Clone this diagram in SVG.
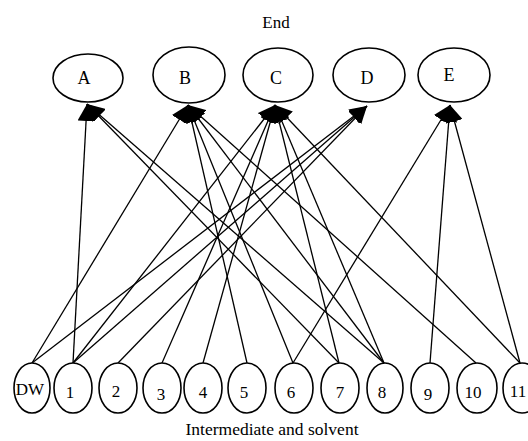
<svg xmlns="http://www.w3.org/2000/svg" width="528" height="441" viewBox="0 0 528 441">
<defs>
<marker id="ah" markerUnits="userSpaceOnUse" markerWidth="18" markerHeight="17" refX="17" refY="8.5" orient="auto" viewBox="0 0 18 17"><path d="M0,0 L17,8.5 L0,17 z" fill="#000"/></marker>
</defs>
<style>
.n ellipse{fill:#fff;stroke:#000;stroke-width:1.6}
.n text{font-family:"Liberation Serif","Times New Roman",serif;fill:#000;text-anchor:middle}
.top text{font-size:18px}
.bot text{font-size:17px}
#edges line{stroke:#000;stroke-width:1.3;marker-end:url(#ah)}
.lbl{font-family:"Liberation Serif","Times New Roman",serif;fill:#000;text-anchor:middle}
</style>
<rect width="528" height="441" fill="#fff"/>
<text class="lbl" x="276" y="28" font-size="17">End</text>
<text class="lbl" x="272" y="435" font-size="17.5">Intermediate and solvent</text>
<g id="edges">
<line x1="73" y1="363" x2="87" y2="104"/>
<line x1="339" y1="363" x2="87" y2="104"/>
<line x1="384" y1="363" x2="87" y2="104"/>
<line x1="32" y1="363" x2="188" y2="105"/>
<line x1="247" y1="363" x2="188" y2="105"/>
<line x1="293" y1="363" x2="188" y2="105"/>
<line x1="384" y1="363" x2="188" y2="105"/>
<line x1="476" y1="363" x2="188" y2="105"/>
<line x1="73" y1="363" x2="275" y2="105"/>
<line x1="162" y1="363" x2="275" y2="105"/>
<line x1="203" y1="363" x2="275" y2="105"/>
<line x1="339" y1="363" x2="275" y2="105"/>
<line x1="384" y1="363" x2="275" y2="105"/>
<line x1="520" y1="363" x2="275" y2="105"/>
<line x1="32" y1="363" x2="367" y2="106"/>
<line x1="73" y1="363" x2="367" y2="106"/>
<line x1="118" y1="363" x2="367" y2="106"/>
<line x1="293" y1="363" x2="450" y2="105"/>
<line x1="430" y1="363" x2="450" y2="105"/>
<line x1="520" y1="363" x2="450" y2="105"/>
</g>
<g id="A" class="n top"><ellipse cx="88" cy="78" rx="35" ry="24"/><text x="84" y="84">A</text></g>
<g id="B" class="n top"><ellipse cx="189" cy="75" rx="36" ry="28"/><text x="185" y="84">B</text></g>
<g id="C" class="n top"><ellipse cx="278" cy="75" rx="35" ry="27"/><text x="276" y="84">C</text></g>
<g id="D" class="n top"><ellipse cx="369" cy="75" rx="36" ry="27"/><text x="367" y="84">D</text></g>
<g id="E" class="n top"><ellipse cx="454" cy="75" rx="36" ry="27"/><text x="449" y="81">E</text></g>
<g id="DW" class="n bot"><ellipse cx="32" cy="388" rx="18" ry="25"/><text x="30" y="395" font-size="15">DW</text></g>
<g id="n1" class="n bot"><ellipse cx="73" cy="388" rx="19" ry="25"/><text x="70" y="398">1</text></g>
<g id="n2" class="n bot"><ellipse cx="118" cy="388" rx="19" ry="25"/><text x="116" y="397">2</text></g>
<g id="n3" class="n bot"><ellipse cx="162" cy="388" rx="19" ry="25"/><text x="161" y="400">3</text></g>
<g id="n4" class="n bot"><ellipse cx="203" cy="388" rx="19" ry="25"/><text x="203" y="398">4</text></g>
<g id="n5" class="n bot"><ellipse cx="247" cy="388" rx="19" ry="25"/><text x="244" y="398">5</text></g>
<g id="n6" class="n bot"><ellipse cx="294" cy="388" rx="19" ry="25"/><text x="291" y="398">6</text></g>
<g id="n7" class="n bot"><ellipse cx="340" cy="388" rx="19" ry="25"/><text x="340" y="398">7</text></g>
<g id="n8" class="n bot"><ellipse cx="385" cy="388" rx="18" ry="25"/><text x="382" y="398">8</text></g>
<g id="n9" class="n bot"><ellipse cx="430" cy="388" rx="19" ry="25"/><text x="428" y="400">9</text></g>
<g id="n10" class="n bot"><ellipse cx="477" cy="388" rx="20" ry="25"/><text x="473" y="398">10</text></g>
<g id="n11" class="n bot"><ellipse cx="522" cy="388" rx="19" ry="25"/><text x="518" y="397">11</text></g>
</svg>
